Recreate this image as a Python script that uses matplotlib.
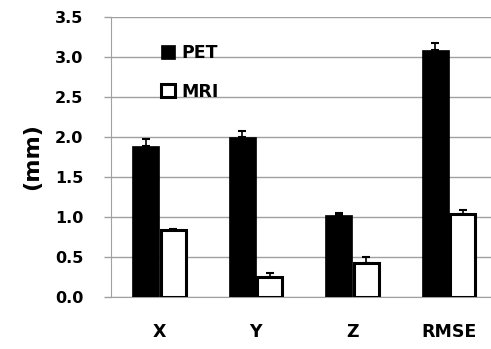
import numpy as np
import matplotlib.pyplot as plt

categories = ["X", "Y", "Z", "RMSE"]
pet_vals = [1.89, 2.00, 1.02, 3.09]
pet_err = [0.08, 0.07, 0.03, 0.09]
mri_vals = [0.84, 0.25, 0.42, 1.04]
mri_err = [0.01, 0.05, 0.08, 0.05]

plt.rcParams['font.family'] = ['DejaVu Sans']
plt.rcParams['font.weight'] = 'bold'

fig = plt.figure(figsize=(4.91, 3.49), dpi=100)
ax = fig.add_axes([0.226, 0.149, 0.786, 0.802])

x = np.arange(len(categories))
w = 0.28

ax.bar(x - w / 2, pet_vals, w, color='black', edgecolor='black', linewidth=0.5,
       yerr=[np.zeros(4), pet_err], error_kw=dict(ecolor='black', elinewidth=1.2, capsize=3, capthick=1.5),
       label='PET', zorder=3)
ax.bar(x + w / 2 + 0.005, mri_vals, w - 0.02, color='white', edgecolor='black', linewidth=2.2,
       yerr=[np.zeros(4), mri_err], error_kw=dict(ecolor='black', elinewidth=1.2, capsize=3, capthick=1.5),
       label='MRI', zorder=3)

ax.set_ylim(0, 3.5)
ax.set_xlim(-0.5, 3.5)
ticks = np.arange(0, 3.51, 0.5)
ax.set_yticks(ticks)
ax.set_yticklabels([f"{v:.1f}" for v in ticks], fontsize=11.5, fontweight='bold')
ax.set_xticks(x)
ax.set_xticklabels(categories, fontsize=12.5, fontweight='bold')
ax.tick_params(axis='x', length=0, pad=19)
ax.tick_params(axis='y', length=5, color='#a0a0a0', width=1, pad=15)
ax.set_ylabel("(mm)", fontsize=16, fontweight='bold', labelpad=9)

ax.grid(axis='y', color='#a0a0a0', linewidth=1, zorder=0)
ax.set_axisbelow(True)
for s in ['top', 'right']:
    ax.spines[s].set_visible(False)
ax.spines['left'].set_color('#a0a0a0')
ax.spines['bottom'].set_color('#a0a0a0')

ax.legend(loc='upper left', bbox_to_anchor=(0.09, 0.96), frameon=False, fontsize=12.5,
          handlelength=0.8, handleheight=0.8, handletextpad=0.35, labelspacing=1.2)

fig.savefig("out.png", dpi=100)
